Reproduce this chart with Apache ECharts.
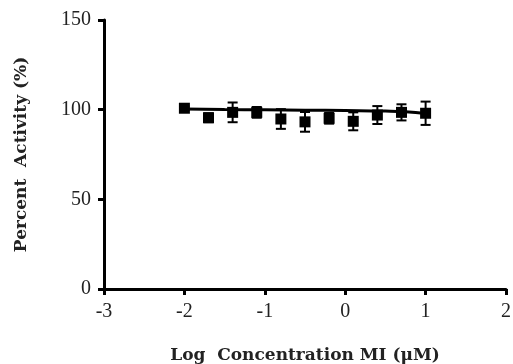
<!DOCTYPE html>
<html>
<head>
<meta charset="utf-8">
<script src="https://cdn.jsdelivr.net/npm/echarts@6/dist/echarts.min.js"></script>
<style>
  html, body { margin: 0; padding: 0; background: #fff; }
  #chart { width: 513px; height: 364px; }
</style>
</head>
<body>
<div id="chart"></div>
<script>
// log concentration (uM) and measured activity
const logConc = [-2, -1.7, -1.4, -1.1, -0.8, -0.5, -0.2, 0.1, 0.4, 0.7, 1.0];
const activity = [100.8, 95.5, 98.5, 98.5, 94.8, 93.2, 95.2, 93.5, 97, 98.5, 98];
const errors = [1, 2.5, 5.5, 3, 5.5, 5.5, 3, 5, 5, 4.5, 6.5];

// fitted curve
const fitX = [-2, -1.5, -1, -0.5, 0, 0.5, 0.75, 1];
const fitY = [100.4, 100.1, 99.9, 99.7, 99.5, 99.2, 98.8, 97.8];

const xTicks = [-3, -2, -1, 0, 1, 2];
const yTicks = [0, 50, 100, 150];

const FONT = '"Liberation Serif", "Times New Roman", serif';
const NAME_FONT = '"DejaVu Serif", serif';

const chart = echarts.init(document.getElementById('chart'));

const points = logConc.map((x, i) => [x, activity[i]]);
const bars = logConc.map((x, i) => [x, activity[i] - errors[i], activity[i] + errors[i]]);
const fit = fitX.map((x, i) => [x, fitY[i]]);

chart.setOption({
  animation: false,
  grid: { left: 104, right: 7, top: 20, bottom: 75, outerBoundsMode: 'none', containLabel: false },
  xAxis: {
    type: 'value',
    min: xTicks[0],
    max: xTicks[xTicks.length - 1],
    interval: 1,
    name: 'Log  Concentration MI (\u03BCM)',
    nameLocation: 'middle',
    nameGap: 58,
    nameTextStyle: { fontFamily: NAME_FONT, fontSize: 17, fontWeight: 'bold', color: '#222' },
    axisLine: { onZero: false, lineStyle: { color: '#000', width: 3 } },
    axisTick: { show: true, length: 6, lineStyle: { color: '#000', width: 3 } },
    axisLabel: { fontFamily: FONT, fontSize: 20, color: '#222', margin: 13 },
    splitLine: { show: false }
  },
  yAxis: {
    type: 'value',
    min: yTicks[0],
    max: yTicks[yTicks.length - 1],
    interval: 50,
    name: 'Percent  Activity (%)',
    nameLocation: 'middle',
    nameGap: 74,
    nameTextStyle: { fontFamily: NAME_FONT, fontSize: 17, fontWeight: 'bold', color: '#222' },
    axisLine: { show: true, onZero: false, lineStyle: { color: '#000', width: 3 } },
    axisTick: { show: true, length: 6, lineStyle: { color: '#000', width: 3 } },
    axisLabel: { fontFamily: FONT, fontSize: 20, color: '#222', margin: 13 },
    splitLine: { show: false }
  },
  series: [
    {
      type: 'line',
      data: fit,
      smooth: true,
      symbol: 'none',
      lineStyle: { color: '#000', width: 3 },
      z: 2
    },
    {
      type: 'custom',
      data: bars,
      renderItem: (params, api) => {
        const x = api.value(0);
        const lo = api.coord([x, api.value(1)]);
        const hi = api.coord([x, api.value(2)]);
        const cap = 5;
        const style = { stroke: '#000', lineWidth: 2 };
        return {
          type: 'group',
          children: [
            { type: 'line', shape: { x1: lo[0], y1: lo[1], x2: hi[0], y2: hi[1] }, style },
            { type: 'line', shape: { x1: lo[0] - cap, y1: lo[1], x2: lo[0] + cap, y2: lo[1] }, style },
            { type: 'line', shape: { x1: hi[0] - cap, y1: hi[1], x2: hi[0] + cap, y2: hi[1] }, style }
          ]
        };
      },
      z: 3
    },
    {
      type: 'scatter',
      data: points,
      symbol: 'rect',
      symbolSize: 11,
      itemStyle: { color: '#000', opacity: 1 },
      z: 4
    }
  ]
});
</script>
</body>
</html>
